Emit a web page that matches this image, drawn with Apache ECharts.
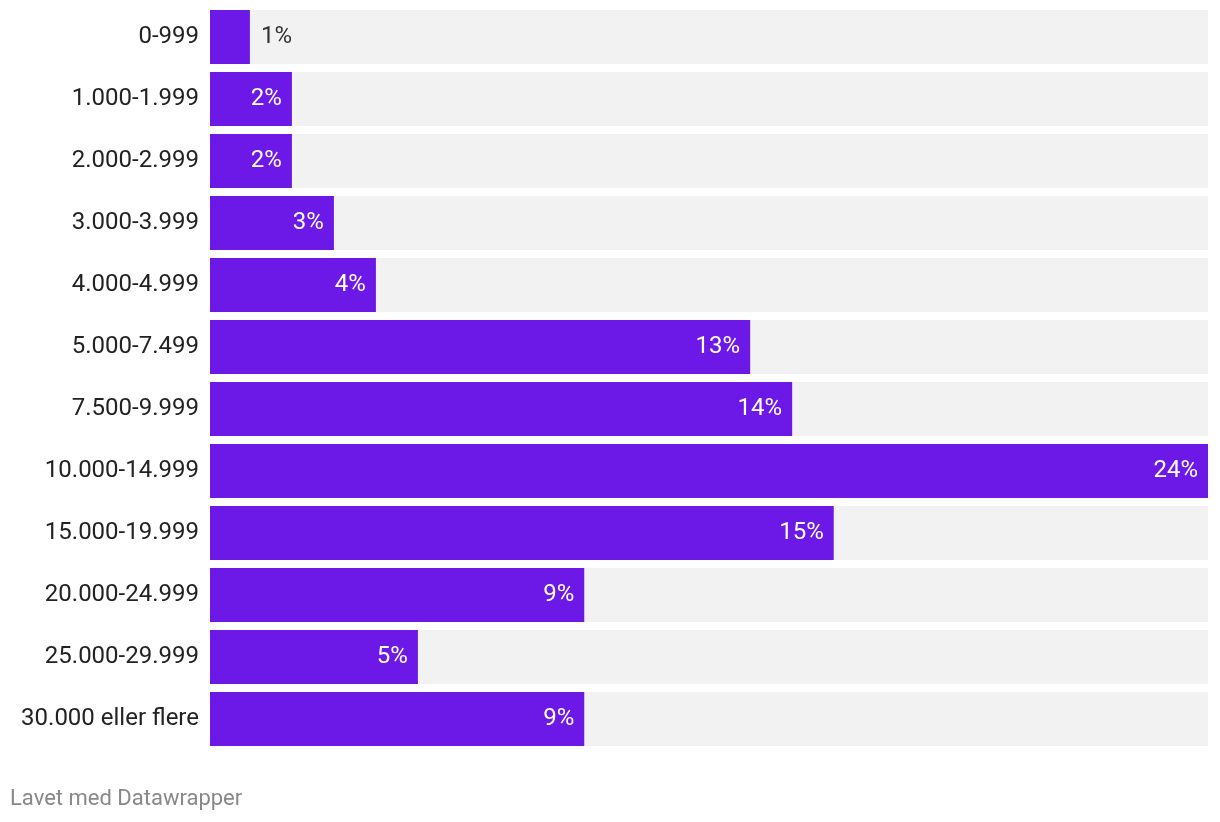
<!DOCTYPE html>
<html>
<head>
<meta charset="utf-8">
<script src="https://cdn.jsdelivr.net/npm/echarts@6/dist/echarts.min.js"></script>
<style>
html,body{margin:0;padding:0;background:#fff;}
#chart{width:1220px;height:822px;}
</style>
</head>
<body>
<div id="chart"></div>
<script>
const categories = ["0-999","1.000-1.999","2.000-2.999","3.000-3.999","4.000-4.999","5.000-7.499","7.500-9.999","10.000-14.999","15.000-19.999","20.000-24.999","25.000-29.999","30.000 eller flere"];
const values = [0.96, 1.97, 1.97, 2.98, 3.99, 12.99, 14.0, 24.0, 15.0, 9.0, 5.0, 9.0];
const footer = "Lavet med Datawrapper";

const FONT = "Roboto";
const chart = echarts.init(document.getElementById('chart'), null, {renderer:'canvas'});

const seriesData = values.map((v, i) => {
  const d = {value: v};
  if (v < 1.5) {
    d.label = {position: 'right', color: '#333333', distance: 11};
  }
  return d;
});

chart.setOption({
  animation: false,
  grid: {left: 210, right: 12, top: 6, height: 744, containLabel: false},
  xAxis: {
    type: 'value', min: 0, max: 24,
    show: false
  },
  yAxis: {
    type: 'category', data: categories, inverse: true,
    axisLine: {show: false}, axisTick: {show: false},
    axisLabel: {fontFamily: FONT, fontSize: 24, color: '#222222', margin: 11, padding: [2, 0, 0, 0]}
  },
  series: [{
    type: 'bar',
    data: seriesData,
    barWidth: 54,
    itemStyle: {color: '#6c18e7'},
    showBackground: true,
    backgroundStyle: {color: '#f2f2f2'},
    label: {
      show: true, position: 'insideRight', distance: 10,
      color: '#ffffff', fontFamily: FONT, fontSize: 24, padding: [2, 0, 0, 0],
      formatter: p => Math.round(p.value) + '%'
    }
  }],
  graphic: [{
    type: 'text', left: 10, top: 788,
    style: {text: footer, fontFamily: FONT, fontSize: 22, fill: '#888888'}
  }]
});
</script>
</body>
</html>
